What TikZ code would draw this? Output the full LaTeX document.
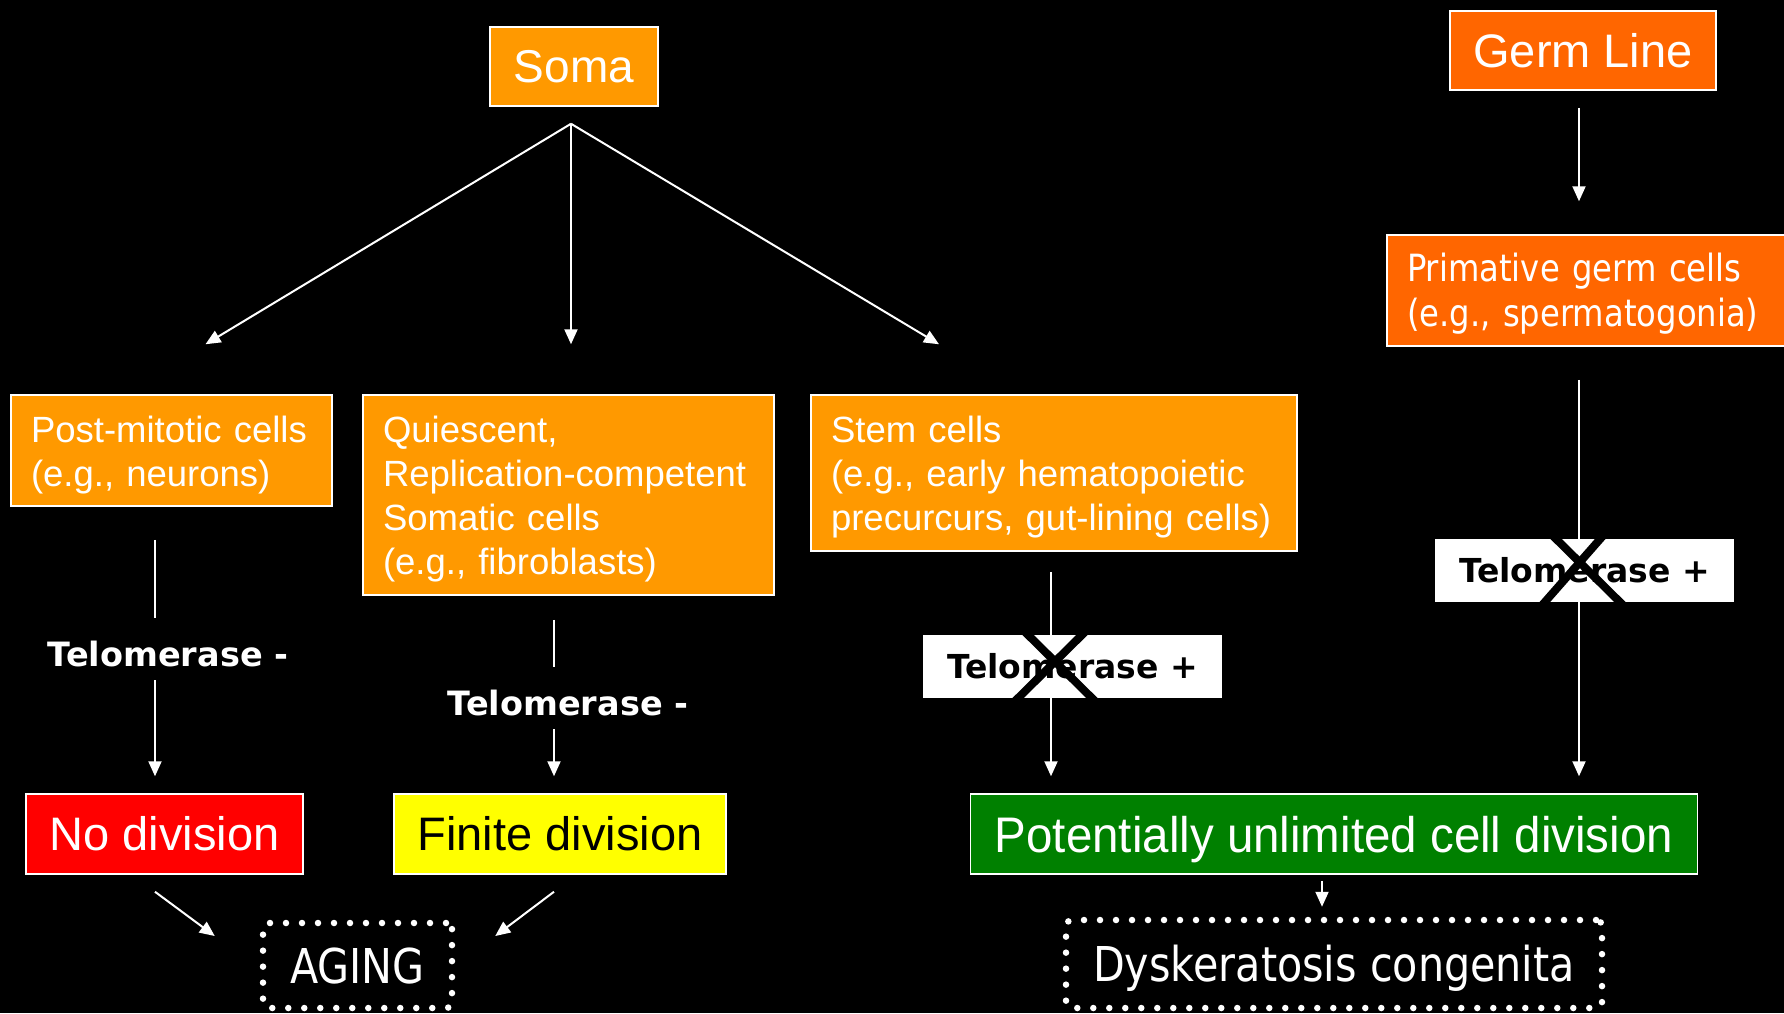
\documentclass[tikz,border=0pt]{standalone}
\usepackage{fontspec}
\newfontfamily\arial{Liberation Sans}
\newfontfamily\arialnarrow{Liberation Sans}[FakeStretch=0.95]
\newfontfamily\tahoma{DejaVu Sans}[FakeStretch=0.86]
\newfontfamily\verdana{DejaVu Sans}
\usetikzlibrary{arrows.meta}
\definecolor{somaorange}{RGB}{255,153,0}
\definecolor{germorange}{RGB}{255,102,0}
\definecolor{nored}{RGB}{255,0,0}
\definecolor{finiteyellow}{RGB}{255,255,0}
\definecolor{unlimitedgreen}{RGB}{0,128,0}
\tikzstyle{somatic} = [rectangle, draw=white, line width=1.5pt, fill=somaorange, text=white]
\tikzstyle{germ} = [rectangle, draw=white, line width=1.5pt, fill=germorange, text=white]
\tikzstyle{celltext} = [align=left, inner xsep=20pt, inner ysep=0pt, execute at begin node={\rule{0pt}{35pt}}, font=\arial\fontsize{36.5}{44}\selectfont]
\tikzstyle{outcome} = [rectangle, draw=white, line width=1.5pt, minimum height=80pt, font=\arial\fontsize{47}{56}\selectfont]
\tikzstyle{telminus} = [fill=black, text=white, text height=34pt, text depth=0pt, inner ysep=14pt, inner xsep=0pt, font=\verdana\bfseries\fontsize{33.5}{40}\selectfont]
\tikzstyle{telplus} = [fill=white, text=black, minimum width=299pt, minimum height=63pt, font=\verdana\bfseries\fontsize{33}{40}\selectfont]
\tikzstyle{disease} = [rectangle, draw=white, line width=6.5pt, line cap=round, dash pattern=on 0pt off 16pt, rounded corners=6pt, text=white, text height=35pt, text depth=0pt, font=\tahoma\fontsize{48}{58}\selectfont]
\tikzstyle{arrow} = [draw=white, line width=2pt, -{Triangle[width=13pt,length=15pt]}]
\tikzstyle{cross} = [draw=black, line width=8pt]

\begin{document}
\begin{tikzpicture}[x=1pt, y=-1pt]
\fill [black] (0,0) rectangle (1784,1013);
\useasboundingbox (0,0) rectangle (1784,1013);

% soma side
\node (soma) [somatic, minimum width=168pt, minimum height=79pt, font=\arial\fontsize{46}{55}\selectfont] at (574,66.5) {Soma};
\node (post mitotic) [somatic, celltext, text width=281pt, minimum height=111pt] at (171.5,450.5) {Post-mitotic cells\\(e.g., neurons)};
\node (quiescent) [somatic, celltext, text width=371pt, minimum height=200pt] at (568.5,495) {Quiescent,\\Replication-competent\\Somatic cells\\(e.g., fibroblasts)};
\node (stem cells) [somatic, celltext, text width=446pt, minimum height=156pt] at (1054,473) {Stem cells\\(e.g., early hematopoietic\\precurcurs, gut-lining cells)};

% germ side
\node (germ line) [germ, minimum width=266pt, minimum height=79pt, font=\arial\fontsize{47}{56}\selectfont] at (1583,50.5) {Germ Line};
\node (primative) [germ, celltext, text width=363pt, minimum height=111pt, font=\tahoma\fontsize{37.5}{45}\selectfont] at (1588.5,290.5) {Primative germ cells\\(e.g., spermatogonia)};

% what happens to them
\node (no division) [outcome, fill=nored, text=white, minimum width=277pt] at (164.5,834) {No division};
\node (finite division) [outcome, fill=finiteyellow, text=black, minimum width=332pt] at (560,834) {Finite division};
\node (unlimited) [outcome, fill=unlimitedgreen, text=white, minimum width=727pt, text depth=0pt, font=\arialnarrow\fontsize{50}{60}\selectfont] at (1334,834) {Potentially unlimited cell division};
\node (aging) [disease, minimum width=189pt, minimum height=85pt] at (357.5,965.5) {AGING};
\node (dyskeratosis) [disease, minimum width=536pt, minimum height=88pt] at (1334,964) {Dyskeratosis congenita};

\coordinate (soma fork) at ([xshift=-3pt,yshift=-17pt]soma.south);
\draw [arrow] (soma fork) -- ([xshift=34pt,yshift=50pt]post mitotic.north);
\draw [arrow] (soma fork) -- ([xshift=2.5pt,yshift=50pt]quiescent.north);
\draw [arrow] (soma fork) -- ([xshift=-115pt,yshift=50pt]stem cells.north);

\draw [arrow, shorten <=33pt, shorten >=17pt] ([xshift=-16.5pt]post mitotic.south) -- ([xshift=-16.5pt]post mitotic.south |- no division.north);
\draw [arrow, shorten <=24pt, shorten >=17pt] ([xshift=-14.5pt]quiescent.south) -- ([xshift=-14.5pt]quiescent.south |- finite division.north);
\draw [arrow, shorten <=20pt, shorten >=17pt] ([xshift=-3pt]stem cells.south) -- ([xshift=-3pt]stem cells.south |- unlimited.north);
\draw [arrow, shorten <=17pt, shorten >=33pt] ([xshift=-4pt]germ line.south) -- ([xshift=-4pt]germ line.south |- primative.north);
\draw [arrow, shorten <=33pt, shorten >=17pt] ([xshift=-4pt]germ line.south |- primative.south) -- ([xshift=-4pt]germ line.south |- unlimited.north);

\draw [arrow] ([xshift=-9.5pt,yshift=-17pt]no division.south) -- ([xshift=-45pt,yshift=29.5pt]aging.west);
\draw [arrow] ([xshift=-6pt,yshift=-17pt]finite division.south) -- ([xshift=40pt,yshift=29.5pt]aging.east);
\draw [arrow] ([xshift=-12pt,yshift=-6pt]unlimited.south) -- ([xshift=-12pt,yshift=10pt]dyskeratosis.north);

% telomerase labels sit on top of the lines
\node (telomerase post) [telminus] at (168,649) {Telomerase -};
\node (telomerase quiescent) [telminus] at (568,698) {Telomerase -};
\node (telomerase stem) [telplus] at (1072.5,666.5) {Telomerase +};
\node (telomerase germ) [telplus] at (1584.5,570.5) {Telomerase +};

\begin{scope}
\clip (telomerase stem.south west) rectangle (telomerase stem.north east);
\draw [cross] ([xshift=-54pt,yshift=41pt]telomerase stem.center) -- ([xshift=29pt,yshift=-41pt]telomerase stem.center);
\draw [cross] ([xshift=19pt,yshift=41pt]telomerase stem.center) -- ([xshift=-64pt,yshift=-41pt]telomerase stem.center);
\end{scope}
\begin{scope}
\clip (telomerase germ.south west) rectangle (telomerase germ.north east);
\draw [cross] ([xshift=-38pt,yshift=41pt]telomerase germ.center) -- ([xshift=45pt,yshift=-41pt]telomerase germ.center);
\draw [cross] ([xshift=24pt,yshift=41pt]telomerase germ.center) -- ([xshift=-48pt,yshift=-41pt]telomerase germ.center);
\end{scope}

\end{tikzpicture}
\end{document}
